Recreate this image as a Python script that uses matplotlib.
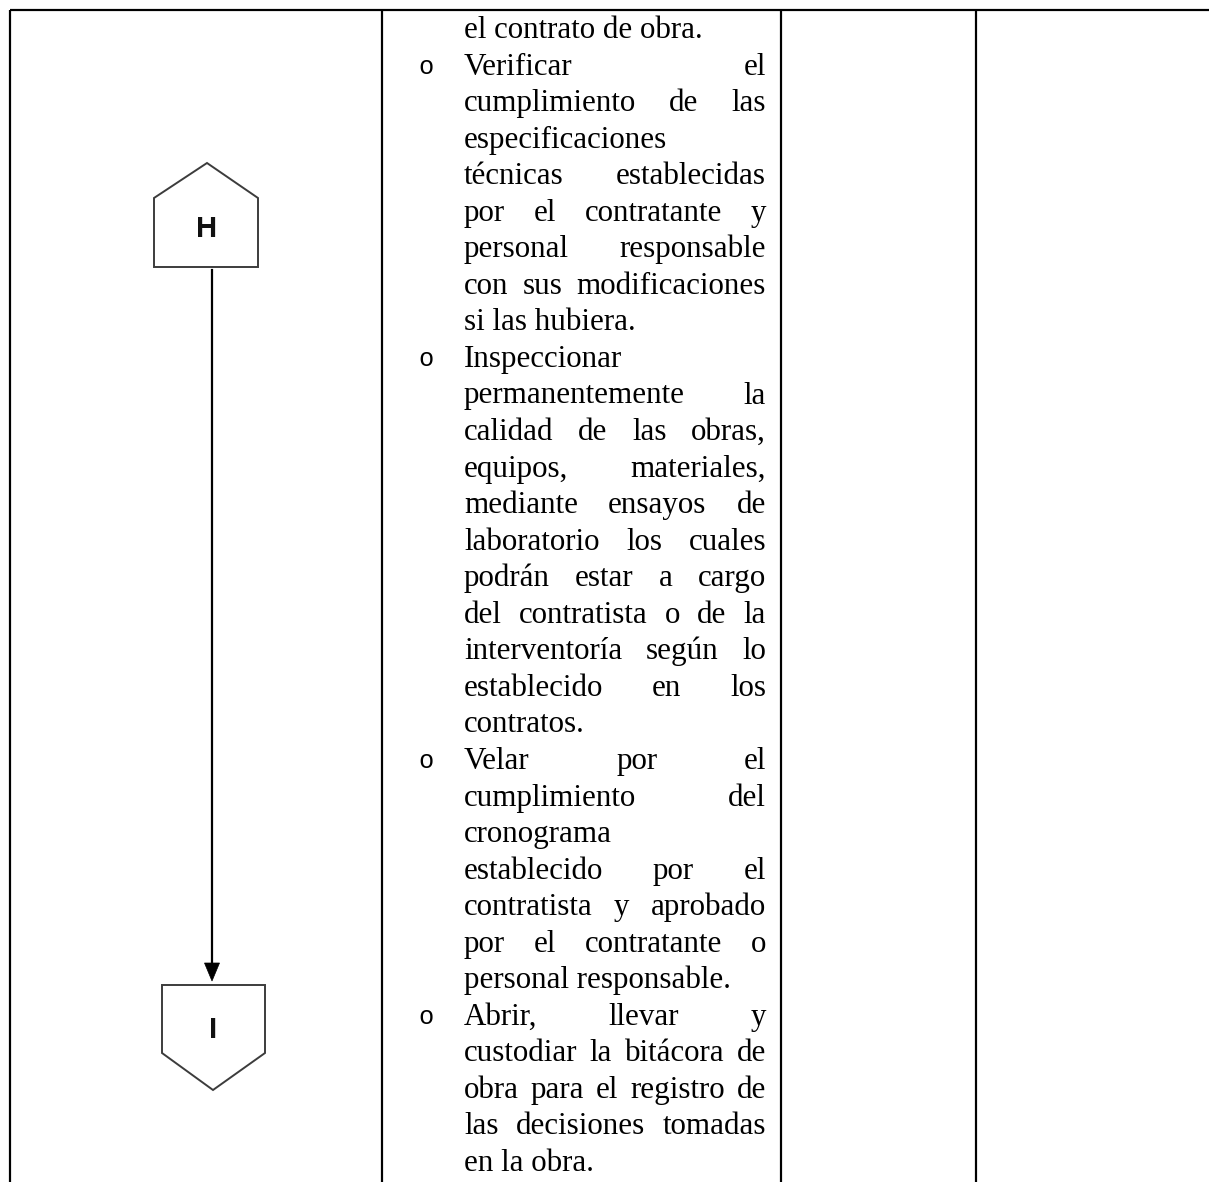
import matplotlib
matplotlib.use("Agg")
import matplotlib.pyplot as plt
from matplotlib.patches import Polygon

# ---- content ----
text_lines = [
    "el contrato de obra.",
    "Verificar el",
    "cumplimiento de las",
    "especificaciones",
    "técnicas establecidas",
    "por el contratante y",
    "personal responsable",
    "con sus modificaciones",
    "si las hubiera.",
    "Inspeccionar",
    "permanentemente la",
    "calidad de las obras,",
    "equipos, materiales,",
    "mediante ensayos de",
    "laboratorio los cuales",
    "podrán estar a cargo",
    "del contratista o de la",
    "interventoría según lo",
    "establecido en los",
    "contratos.",
    "Velar por el",
    "cumplimiento del",
    "cronograma",
    "establecido por el",
    "contratista y aprobado",
    "por el contratante o",
    "personal responsable.",
    "Abrir, llevar y",
    "custodiar la bitácora de",
    "obra para el registro de",
    "las decisiones tomadas",
    "en la obra.",
]
bullet_lines = [1, 9, 20, 27]
left_aligned = [0, 3, 8, 9, 19, 22, 26, 31]
start_label = "H"
end_label = "I"

# ---- layout ----
W, H = 1209, 1182
fig = plt.figure(figsize=(W / 100, H / 100), dpi=100)
ax = fig.add_axes([0, 0, 1, 1])
ax.set_xlim(0, W)
ax.set_ylim(H, 0)
ax.axis("off")

lw_px = 2.2
lw = lw_px * 72 / 100
top = 10
ax.plot([10, W], [top, top], color="black", lw=lw, solid_capstyle="butt")
for x in [10, 382, 781, 976]:
    ax.plot([x, x], [top, H], color="black", lw=lw, solid_capstyle="butt")

# ---- text column ----
serif = "Liberation Serif"
fs = 22.3
x_left, x_right = 464, 766
base0, step = 38, 36.55
fig.canvas.draw()
renderer = fig.canvas.get_renderer()
for i, line in enumerate(text_lines):
    y = base0 + i * step
    if i in bullet_lines:
        ax.text(418, y - 1, "o", fontsize=fs * 0.82, family="Liberation Mono",
                va="baseline", ha="left", color="black")
    words = line.split(" ")
    if i in left_aligned or len(words) == 1:
        ax.text(x_left, y, line, fontsize=fs, family=serif, va="baseline",
                ha="left", color="black")
        continue
    arts = [ax.text(x_left, y, w, fontsize=fs, family=serif, va="baseline",
                    ha="left", color="black") for w in words]
    widths = [a.get_window_extent(renderer).width for a in arts]
    gap = (x_right - x_left - sum(widths)) / (len(words) - 1)
    x = x_left
    for a, w in zip(arts, widths):
        a.set_x(x)
        x += w + gap

# ---- flowchart shapes ----
edge = "#3c3c3c"
hx = [154, 154, 207, 258, 258]
hy = [267, 198, 163, 198, 267]
ax.add_patch(Polygon(list(zip(hx, hy)), closed=True, facecolor="white",
                     edgecolor=edge, lw=1.4, zorder=3))
ax.text(207, 229, start_label, fontsize=21, family="Liberation Sans",
        weight="bold", ha="center", va="center", color="#111111", zorder=4)

ix = [162, 265, 265, 213, 162]
iy = [985, 985, 1053, 1090, 1053]
ax.add_patch(Polygon(list(zip(ix, iy)), closed=True, facecolor="white",
                     edgecolor=edge, lw=1.4, zorder=3))
ax.text(213, 1030, end_label, fontsize=21, family="Liberation Sans",
        weight="bold", ha="center", va="center", color="#111111", zorder=4)

ax.plot([212, 212], [270, 965], color="black", lw=1.6, zorder=2)
ax.add_patch(Polygon([(204.5, 963), (219.5, 963), (212, 981)], closed=True,
                     facecolor="black", edgecolor="black", lw=0.5, zorder=3))

fig.savefig("out.png", dpi=100)
